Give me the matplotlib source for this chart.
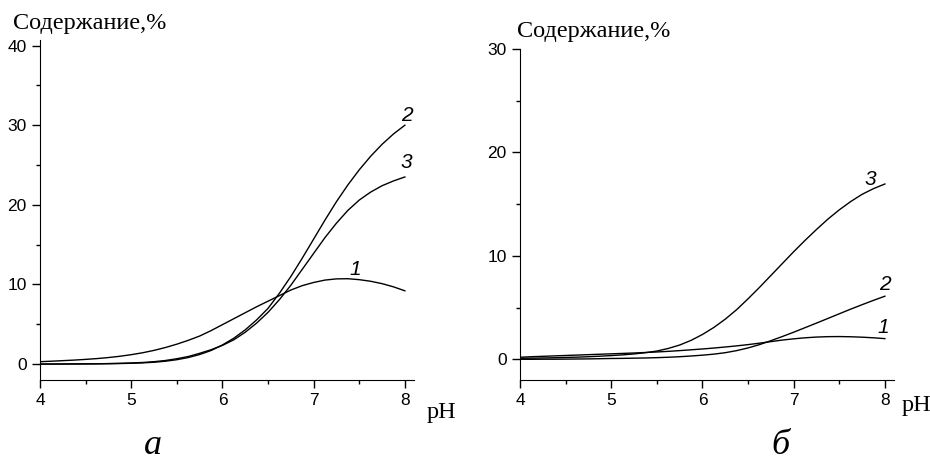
import matplotlib.pyplot as plt
import numpy as np
from matplotlib.ticker import MultipleLocator

ph = np.linspace(4, 8, 33)  # шаг 0.125

# панель а
a1 = [0.30, 0.36, 0.43, 0.50, 0.59, 0.69, 0.82, 0.98, 1.18, 1.42, 1.72, 2.08, 2.50,
      2.98, 3.52, 4.20, 4.95, 5.70, 6.45, 7.20, 7.90, 8.60, 9.30, 9.85, 10.25, 10.55,
      10.70, 10.72, 10.60, 10.40, 10.10, 9.70, 9.20]
a2 = [0.00, 0.00, 0.01, 0.01, 0.02, 0.03, 0.05, 0.07, 0.10, 0.15, 0.23, 0.36, 0.55,
      0.82, 1.20, 1.70, 2.40, 3.25, 4.30, 5.55, 7.00, 8.90, 11.0, 13.3, 15.7, 18.1,
      20.4, 22.5, 24.4, 26.1, 27.6, 28.9, 30.0]
a3 = [0.00, 0.00, 0.01, 0.02, 0.03, 0.04, 0.06, 0.09, 0.14, 0.20, 0.30, 0.45, 0.67,
      0.95, 1.35, 1.80, 2.35, 3.05, 4.00, 5.15, 6.50, 8.10, 9.90, 11.9, 13.9, 15.9,
      17.7, 19.3, 20.6, 21.6, 22.4, 23.0, 23.5]

# панель б
b1 = [0.20, 0.25, 0.29, 0.33, 0.37, 0.41, 0.45, 0.49, 0.53, 0.57, 0.61, 0.66, 0.71,
      0.77, 0.84, 0.92, 1.00, 1.09, 1.19, 1.30, 1.42, 1.56, 1.71, 1.86, 1.98, 2.08,
      2.15, 2.19, 2.20, 2.18, 2.14, 2.08, 2.00]
b2 = [0.00, 0.00, 0.01, 0.01, 0.02, 0.03, 0.04, 0.06, 0.08, 0.09, 0.11, 0.13, 0.16,
      0.20, 0.25, 0.32, 0.40, 0.50, 0.64, 0.84, 1.10, 1.42, 1.80, 2.20, 2.62, 3.06,
      3.50, 3.95, 4.40, 4.85, 5.28, 5.70, 6.10]
b3 = [0.10, 0.11, 0.13, 0.15, 0.18, 0.21, 0.25, 0.30, 0.36, 0.43, 0.52, 0.64, 0.80,
      1.05, 1.38, 1.83, 2.40, 3.08, 3.88, 4.80, 5.85, 6.95, 8.10, 9.25, 10.4, 11.5,
      12.55, 13.55, 14.45, 15.25, 15.95, 16.5, 16.95]

W, H = 930, 465
fig = plt.figure(figsize=(W / 100, H / 100), dpi=100)

serif = 'Liberation Serif'
sans = 'Liberation Sans'


def setup(ax, ymax, ystep):
    ax.spines['top'].set_visible(False)
    ax.spines['right'].set_visible(False)
    ax.set_xlim(4, 8.1)
    ax.set_ylim(-2, ymax)
    ax.xaxis.set_major_locator(MultipleLocator(1))
    ax.xaxis.set_minor_locator(MultipleLocator(0.5))
    ax.yaxis.set_minor_locator(MultipleLocator(ystep / 2))
    ax.set_yticks(np.arange(0, ymax + 0.1, ystep))
    ax.tick_params(which='major', direction='out', length=6, width=1, labelsize=12.5)
    ax.tick_params(which='minor', direction='out', length=3, width=1)
    for lab in ax.get_xticklabels() + ax.get_yticklabels():
        lab.set_family(sans)


def num(ax, x, y, s):
    ax.text(x, y, s, fontsize=15, style='italic', family=sans, ha='center', va='center')


ax1 = fig.add_axes([40 / W, 1 - 380 / H, 374 / W, 340 / H])
for ys in (a1, a2, a3):
    ax1.plot(ph, ys, color='black', lw=1)
setup(ax1, 40.7, 10)
num(ax1, 8.02, 31.2, '2')
num(ax1, 8.02, 25.3, '3')
num(ax1, 7.46, 11.9, '1')

ax2 = fig.add_axes([520 / W, 1 - 380 / H, 374 / W, 331 / H])
for ys in (b1, b2, b3):
    ax2.plot(ph, ys, color='black', lw=1)
setup(ax2, 30, 10)
num(ax2, 7.84, 17.4, '3')
num(ax2, 8.0, 7.2, '2')
num(ax2, 7.98, 3.1, '1')

fig.text(13 / W, 1 - 24 / H, 'Содержание,%', family=serif, fontsize=17.5, va='center', ha='left')
fig.text(517 / W, 1 - 32 / H, 'Содержание,%', family=serif, fontsize=17.5, va='center', ha='left')
fig.text(441 / W, 1 - 412 / H, 'pH', family=serif, fontsize=17.5, va='center', ha='center')
fig.text(916 / W, 1 - 405 / H, 'pH', family=serif, fontsize=17.5, va='center', ha='center')
fig.text(153 / W, 1 - 462 / H, 'а', family=serif, style='italic', fontsize=26, va='bottom', ha='center')
fig.text(780 / W, 1 - 462 / H, 'б', family=serif, style='italic', fontsize=26, va='bottom', ha='center')

fig.savefig('out.png', dpi=100)
